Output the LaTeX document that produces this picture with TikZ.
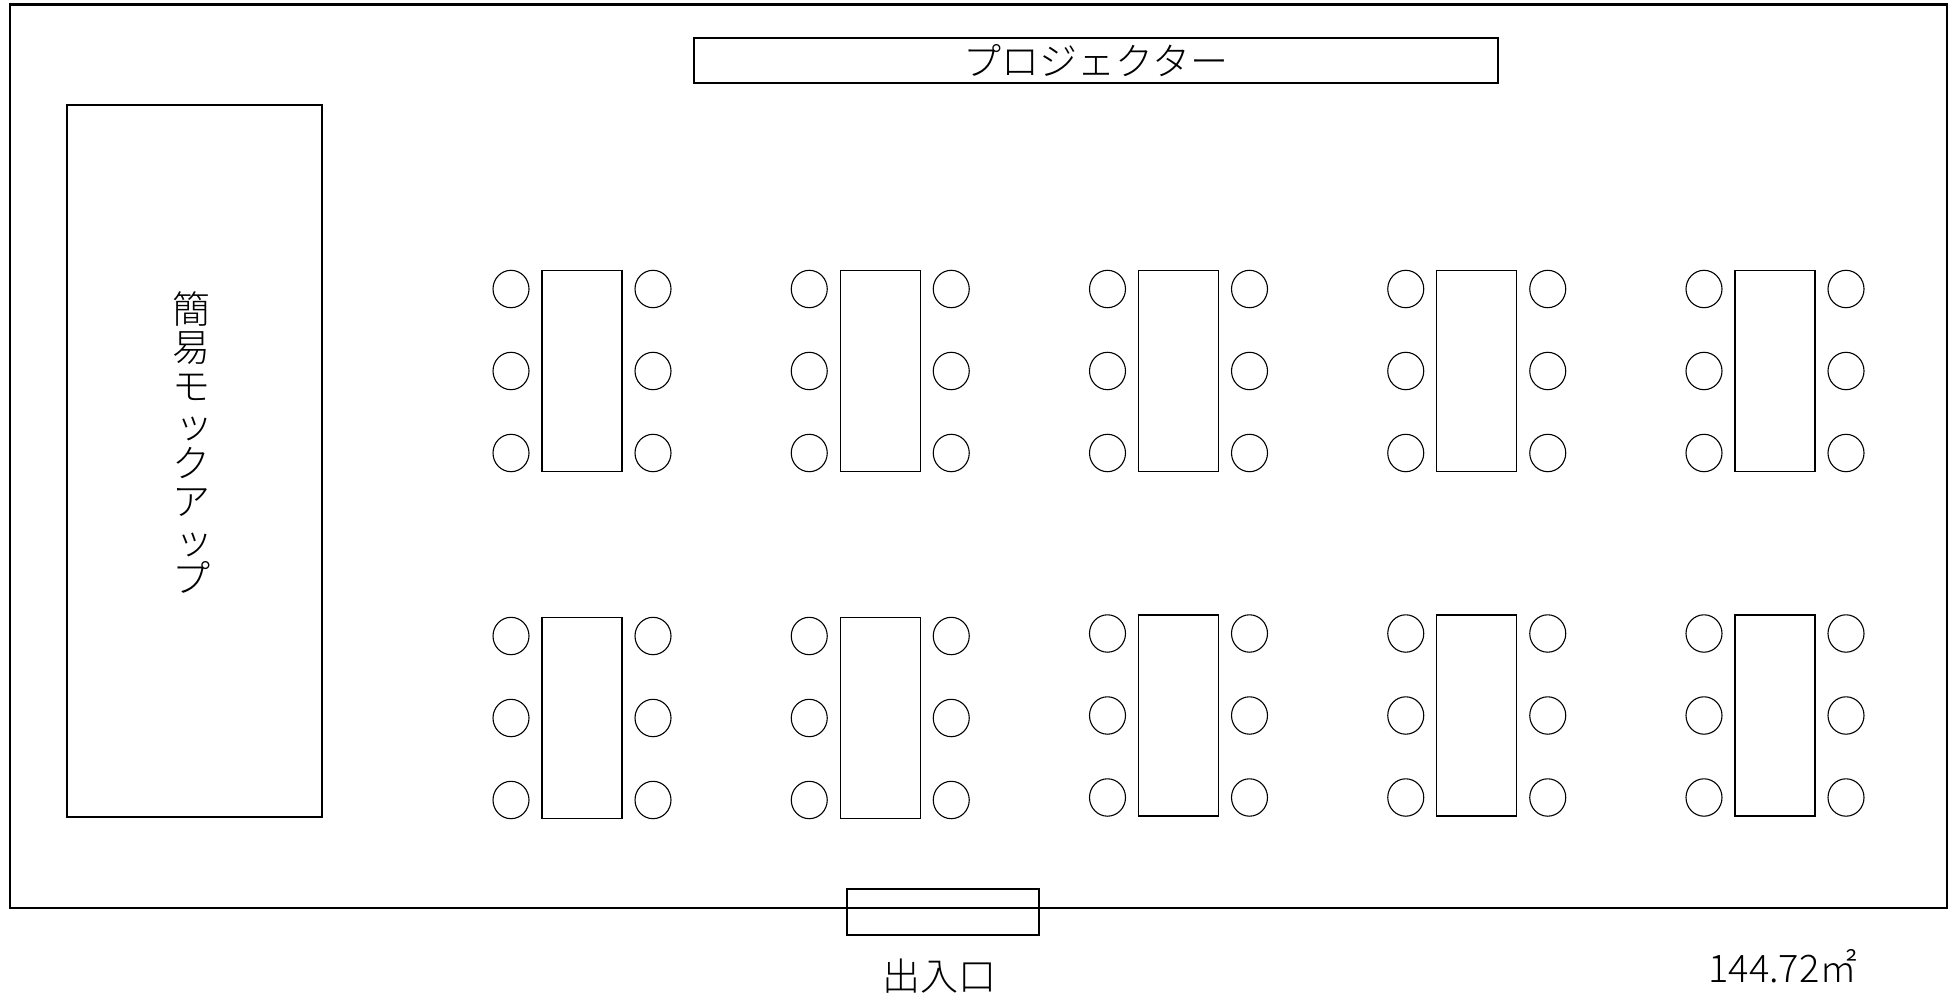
\documentclass[tikz,border=0pt]{standalone}
\usepackage{fontspec}
\setmainfont{Noto Sans CJK JP}[UprightFont=* Light]
\tikzset{
  wall/.style={draw,line width=2.2pt,inner sep=0pt},
  desk/.style={draw,line width=1.1pt,minimum width=80pt,minimum height=201pt,inner sep=0pt},
  seat/.style={draw,line width=1.1pt,ellipse,minimum width=36pt,minimum height=37.4pt,inner sep=0pt},
  roomtext/.style={font=\fontsize{38}{38.5}\selectfont,inner sep=0pt}
}
\usetikzlibrary{shapes.geometric}
\begin{document}
\begin{tikzpicture}[x=1pt,y=-1pt]
    \useasboundingbox (0,0) rectangle (1955,995);
    \draw [wall] (10,4.5) rectangle (1947,908);
    \node [wall,roomtext,minimum width=804pt,minimum height=45pt] (proj) at (1096,60.5) {プロジェクター};
    \node [wall,minimum width=255.3pt,minimum height=712.3pt] (mock) at (194.3,460.8) {};
    \node [roomtext,align=center] (mocktext) at (191,442.5) {簡\\易\\モ\\\hspace{6pt}ッ\\ク\\ア\\\hspace{6pt}ッ\\プ};
    \node [wall,minimum width=192pt,minimum height=46pt] (door) at (943,912) {};
    \node [roomtext] (doortext) at (939.5,976) {出入口};
    \node [roomtext] (area) at (1783,966) {144.72㎡};
    \foreach \i in {0,...,4} {
        \node [desk] (ta\i) at ({582+298.25*\i},371) {};
        \foreach \s in {-1,1}
            \foreach \k in {-1,0,1}
                \node [seat] (sa\i\s\k) at ({582+298.25*\i+71*\s},{371+82*\k}) {};
    }
    \foreach \i/\y in {0/718,1/718,2/715.5,3/715.5,4/715.5} {
        \node [desk] (tb\i) at ({582+298.25*\i},\y) {};
        \foreach \s in {-1,1}
            \foreach \k in {-1,0,1}
                \node [seat] (sb\i\s\k) at ({582+298.25*\i+71*\s},{\y+82*\k}) {};
    }
\end{tikzpicture}
\end{document}
